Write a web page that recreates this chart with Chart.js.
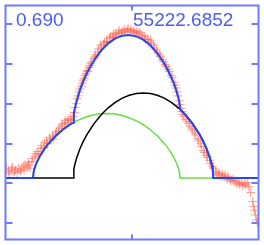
<!DOCTYPE html>
<html>
<head>
<meta charset="utf-8">
<script src="https://cdn.jsdelivr.net/npm/chart.js@4/dist/chart.umd.min.js"></script>
<style>
  body { margin: 0; background: #fff; }
  canvas { display: block; }
</style>
</head>
<body>
<canvas id="chart" width="264" height="245"></canvas>
<script>
// labels printed in the frame
const phaseLabel = "0.690";
const dateLabel = "55222.6852";

// observed points (x, flux above continuum)
const obsX = [3,4,6,7,9,10,12,13,15,16,18,19,21,22,23,25,26,27,28,30,
  31,33,34,36,37,39,40,42,43,45,46,48,49,51,52,54,55,57,58,60,61,63,64,66,67,69,70,72,
  73,74,75,76,77,78,79,80,81,82,83,84,85,86,87,88,89,90,91,93,94,95,97,98,100,
  101,103,104,106,107,109,110,112,113,115,116,118,119,121,122,124,125,127,128,130,131,133,134,136,137,139,140,142,143,145,146,148,149,
  151,152,154,155,157,158,160,161,163,164,166,167,169,170,172,173,175,176,177,178,179,180,181,182,183,184,185,187,188,190,191,193,194,196,197,199,200,202,203,205,206,208,209,211,212,214,215,217,218,
  220,221,223,224,226,227,229,230,232,233,235,236,238,239,241,242,244,245,247,248,250,251,253,255,256,257,258,259,260];
const obsY = [6,10,7,4,9,11,6,8,5,10,7,9,12,8,14,11,16,13,10,17,
  20,22,25,27,24,30,33,31,36,38,35,41,39,43,40,45,47,48,51,53,55,56,59,57,60,61,59,63,
  67,72,76,81,84,88,91,94,97,100,102,105,107,110,109,113,115,117,119,122,124,126,129,132,136,
  134,137,139,140,139,143,145,144,147,148,146,149,151,148,150,152,149,151,153,150,152,149,151,148,150,147,149,146,144,145,142,142,139,
  141,138,136,133,131,128,126,124,121,119,116,114,111,109,105,103,98,95,92,88,84,79,75,71,68,65,63,60,58,56,53,51,49,46,44,40,38,35,32,28,26,23,21,18,15,12,10,7,5,
  3,5,2,4,1,3,-1,1,-2,-3,-1,-4,-3,-6,-5,-7,-5,-8,-6,-7,-5,-9,-15,-24,-29,-33,-38,-43,-46];

// fitted components
const greenX = [31,31.75,32.5,34.75,38.5,42.25,46,53.5,61,68.5,76,83.5,91,98.5,106,113.5,121,128.5,136,143.5,151,158.5,166,169.75,173.5,177.25,179.5,180.25,181,215];
const greenY = [0,6.5,9.5,15.6,23.1,29.0,34.1,42.4,49.1,54.5,58.7,61.9,64.2,65.6,66,65.6,64.2,61.9,58.7,54.5,49.1,42.4,34.1,29.0,23.1,15.6,9.5,6.5,0,0];

const blackX = [31,72,72.7,73.4,75.6,79.1,82.7,86.3,93.45,100.6,107.75,114.9,122.05,129.2,136.35,143.5,150.65,157.8,164.95,172.1,179.25,186.4,193.55,200.7,204.3,207.85,211.4,213.6,214.3,215];
const blackY = [0,0,8.6,12.5,20.6,30.4,38.2,44.9,55.9,64.7,71.8,77.4,81.7,84.6,86.4,87,86.4,84.6,81.7,77.4,71.8,64.7,55.9,44.9,38.2,30.4,20.6,12.5,8.6,0];

const sumX = [3,31,31.75,32.5,34.75,38.5,42.25,46,53.5,61,68.5,72,72.7,73.4,75.6,79.1,82.7,86.3,93.45,100.6,107.75,114.9,122.05,129.2,136.35,143.5,150.65,157.8,164.95,168,172.1,175,177.5,179.25,180.25,181,186.4,193.55,200.7,204.3,207.85,211.4,213.6,214.3,215,261];
const sumY = [0,0,6.5,9.5,15.6,23.1,29.0,34.1,42.4,49.1,54.5,56.6,65.5,69.7,79.1,90.6,99.8,107.8,120.6,130.5,137.8,142.8,145.6,146.3,144.9,141.5,135.8,127.7,117.1,111.5,102.8,95.7,88.4,82.1,77.5,70.2,64.7,55.9,44.9,38.2,30.4,20.6,12.5,8.6,0,0];

// tick marks
const xTicks = [132];
const yTicks = [-46, -5, 35, 76, 117, 158];

const pts = (xs, ys) => xs.map((x, i) => ({ x: x, y: ys[i] }));

const frameColor = '#6f7bff';
const textColor = '#4d5cf2';

const framePlugin = {
  id: 'frame',
  afterDraw(chart) {
    const ctx = chart.ctx;
    const a = chart.chartArea;
    const sx = chart.scales.x, sy = chart.scales.y;
    ctx.save();
    ctx.strokeStyle = frameColor;
    ctx.lineWidth = 2;
    ctx.strokeRect(a.left, a.top, a.right - a.left, a.bottom - a.top);
    ctx.beginPath();
    yTicks.forEach(v => {
      const y = Math.round(sy.getPixelForValue(v));
      ctx.moveTo(a.left, y); ctx.lineTo(a.left + 7, y);
      ctx.moveTo(a.right, y); ctx.lineTo(a.right - 7, y);
    });
    xTicks.forEach(v => {
      const x = Math.round(sx.getPixelForValue(v));
      ctx.moveTo(x, a.top); ctx.lineTo(x, a.top + 5);
      ctx.moveTo(x, a.bottom); ctx.lineTo(x, a.bottom - 5);
    });
    ctx.stroke();
    ctx.fillStyle = textColor;
    ctx.font = '19px "Liberation Sans", Arial, sans-serif';
    ctx.textBaseline = 'alphabetic';
    ctx.fillText(phaseLabel, 16, 26);
    ctx.fillText(dateLabel, 133, 26);
    ctx.restore();
  }
};

new Chart(document.getElementById('chart'), {
  type: 'scatter',
  data: {
    datasets: [
      { data: pts(sumX, sumY), showLine: true, borderColor: '#2747ee', borderWidth: 2, pointRadius: 0, tension: 0 },
      { data: pts(blackX, blackY), showLine: true, borderColor: '#000000', borderWidth: 1.5, pointRadius: 0, tension: 0 },
      { data: pts(greenX, greenY), showLine: true, borderColor: '#66e040', borderWidth: 1.5, pointRadius: 0, tension: 0 },
      { data: pts(obsX, obsY), showLine: false, pointStyle: 'cross', pointRadius: 4.5,
        borderColor: 'rgba(255,70,50,0.5)', borderWidth: 1, backgroundColor: 'rgba(0,0,0,0)' }
    ]
  },
  options: {
    responsive: false,
    animation: false,
    layout: { padding: { left: 3, right: 3, top: 1.5, bottom: 4 } },
    plugins: { legend: { display: false }, tooltip: { enabled: false } },
    scales: {
      x: { type: 'linear', min: 3, max: 261, display: false },
      y: { type: 'linear', min: -63, max: 176.5, display: false }
    }
  },
  plugins: [framePlugin]
});
</script>
</body>
</html>
